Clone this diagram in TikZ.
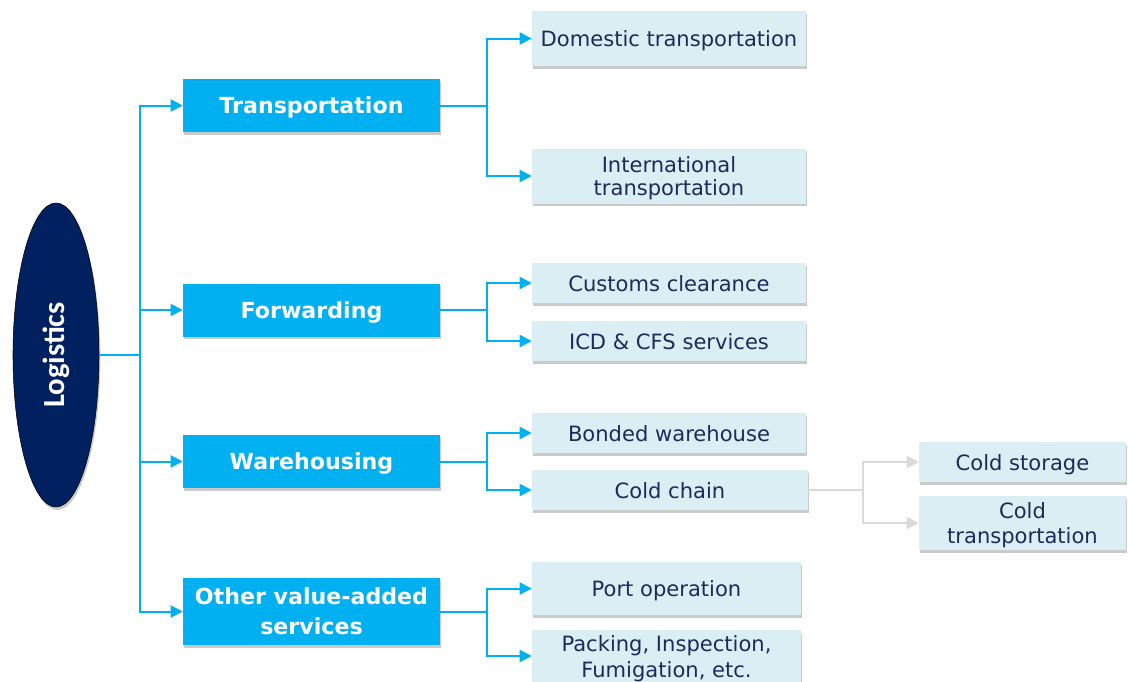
\documentclass[tikz,border=0pt]{standalone}
\usepackage{fontspec}
\setmainfont{DejaVu Sans}
\newfontfamily\logifont{Carlito}
\usetikzlibrary{shapes.geometric,arrows.meta,shadows}
\definecolor{bluebox}{HTML}{00B0F0}
\definecolor{lightbox}{HTML}{DAEEF3}
\definecolor{navy}{HTML}{002060}
\definecolor{txtnavy}{HTML}{1F2A5A}
\definecolor{greyline}{HTML}{D9D9D9}
\begin{document}
\begin{tikzpicture}[x=0.75pt,y=-0.75pt,
  shd/.style={drop shadow={shadow xshift=1pt,shadow yshift=-2.2pt,opacity=0.35,fill=black!60}},
  mainbox/.style={shd,fill=bluebox,draw=none,minimum width=192.75pt,inner sep=2pt,text depth=0pt,align=center,text=white,font=\fontsize{16.6}{22.5}\selectfont\bfseries},
  subbox/.style={shd,fill=lightbox,draw=none,minimum width=205.5pt,inner sep=2pt,text depth=0pt,align=center,text=txtnavy,font=\fontsize{15.8}{18}\selectfont},
  conn/.style={draw=bluebox,line width=1.5pt,-{Triangle[length=9pt,width=9pt]}},
  gconn/.style={draw=greyline,line width=1.5pt,-{Triangle[length=9pt,width=9pt]}}
]
\useasboundingbox (0,0) rectangle (1133,682);

\node[ellipse,shd,fill=navy,draw=black,line width=0.4pt,minimum width=64.5pt,minimum height=228pt,inner sep=0pt] (logi) at (56,355) {};
\node[rotate=90,text=white,font=\logifont\fontsize{23}{26}\selectfont\bfseries] (logit) at (56,355) {Logistics};

\node[mainbox,minimum height=39.75pt] (trans) at (311.5,105.5) {Transportation};
\node[mainbox,minimum height=39.75pt] (fwd) at (311.5,310) {Forwarding};
\node[mainbox,minimum height=39.75pt] (ware) at (311.5,461.5) {Warehousing};
\node[mainbox,minimum height=50.25pt] (other) at (311.5,611.5) {Other value-added\\services};

\node[subbox,minimum height=41.25pt] (dom) at (669,38.5) {Domestic transportation};
\node[subbox,minimum height=41.25pt,font=\fontsize{15.8}{17.3}\selectfont] (intl) at (669,176) {International\\transportation};
\node[subbox,minimum height=30pt] (cust) at (669,283) {Customs clearance};
\node[subbox,minimum height=30pt] (icd) at (669,341) {ICD \& CFS services};
\node[subbox,minimum height=30pt] (bond) at (669,433) {Bonded warehouse};
\node[subbox,minimum height=30pt,minimum width=207pt] (cold) at (670,490) {Cold chain};
\node[subbox,minimum height=39.75pt,minimum width=201.75pt] (port) at (666.5,588.5) {Port operation};
\node[subbox,minimum height=39pt,minimum width=201.75pt,font=\fontsize{15.8}{19.5}\selectfont] (pack) at (666.5,656) {Packing, Inspection,\\Fumigation, etc.};
\node[subbox,minimum height=30pt,minimum width=155.25pt] (cstor) at (1022.5,462) {Cold storage};
\node[subbox,minimum height=40.5pt,minimum width=155.25pt,font=\fontsize{15.8}{19}\selectfont] (ctrans) at (1022.5,523) {Cold\\transportation};

\coordinate (tx) at (140,0);
\coordinate (bx) at (487,0);
\coordinate (gx) at (863,0);

\draw[draw=bluebox,line width=1.5pt] (logi.east) -- (logi.east -| tx);
\foreach \t in {trans,fwd,ware,other}{
  \draw[conn] (logi.east -| tx) |- (\t.west);
}
\foreach \s/\t in {trans/dom,trans/intl,fwd/cust,fwd/icd,ware/bond,ware/cold,other/port,other/pack}{
  \draw[conn] (\s.east) -- (\s.east -| bx) |- (\t.west);
}
\foreach \t in {cstor,ctrans}{
  \draw[gconn] (cold.east) -- (cold.east -| gx) |- (\t.west);
}
\end{tikzpicture}
\end{document}
